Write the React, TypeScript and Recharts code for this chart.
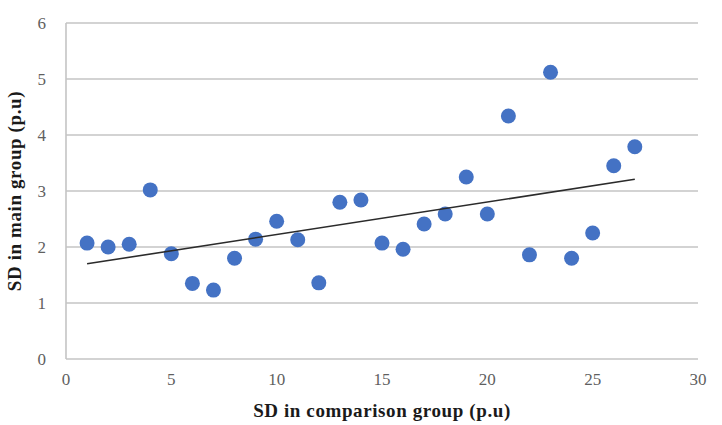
// Scatter of SD in main group vs SD in comparison group, with a linear trendline

import { ScatterChart, Scatter, XAxis, YAxis, CartesianGrid, Label } from 'recharts';

const xValues = [1, 2, 3, 4, 5, 6, 7, 8, 9, 10, 11, 12, 13, 14, 15, 16, 17, 18, 19, 20, 21, 22, 23, 24, 25, 26, 27];
const yValues = [2.07, 2.0, 2.05, 3.02, 1.88, 1.35, 1.23, 1.8, 2.14, 2.46, 2.13, 1.36, 2.8, 2.84, 2.07, 1.96, 2.41, 2.59, 3.25, 2.59, 4.34, 1.86, 5.12, 1.8, 2.25, 3.45, 3.79];
const trendX = [1, 27];
const trendY = [1.7, 3.21];
const xTicks = [0, 5, 10, 15, 20, 25, 30];
const yTicks = [0, 1, 2, 3, 4, 5, 6];

const points = xValues.map((x, i) => ({ x, y: yValues[i] }));
const trend = trendX.map((x, i) => ({ x, y: trendY[i] }));

const tickStyle = { fill: '#5f5f5f', fontSize: 17, fontFamily: '"Liberation Serif", "Times New Roman", serif' };
const labelStyle = { fill: '#1a1a1a', fontSize: 19, fontWeight: 'bold', fontFamily: '"Liberation Serif", "Times New Roman", serif', letterSpacing: 0.6, textAnchor: 'middle' as const };

export default function App() {
  return (
    <div style={{ position: 'absolute', left: 0, top: 0, background: '#fff' }}>
      <ScatterChart width={722} height={425} margin={{ top: 23, right: 24, left: 0, bottom: 0 }}>
        <CartesianGrid vertical={false} stroke="#c4c4c4" strokeWidth={1.6} />
        <XAxis
          type="number"
          dataKey="x"
          domain={[0, 30]}
          ticks={xTicks}
          height={66}
          tickLine={false}
          axisLine={false}
          tickSize={0}
          tickMargin={14}
          tick={tickStyle}
          interval={0}
        >
          <Label value="SD in comparison  group (p.u)" position="insideBottom" offset={8} style={labelStyle} />
        </XAxis>
        <YAxis
          type="number"
          dataKey="y"
          domain={[0, 6]}
          ticks={yTicks}
          width={66}
          tickLine={false}
          axisLine={{ stroke: '#c4c4c4', strokeWidth: 1.6 }}
          tickSize={0}
          tickMargin={20}
          tick={tickStyle}
          interval={0}
        >
          <Label value="SD in main group (p.u)" angle={-90} position="insideLeft" offset={14} style={labelStyle} />
        </YAxis>
        <Scatter
          data={points}
          isAnimationActive={false}
          shape={(p: any) => <circle cx={p.cx} cy={p.cy} r={7.5} fill="#4472c4" />}
        />
        <Scatter
          data={trend}
          isAnimationActive={false}
          line={{ stroke: '#2b2b2b', strokeWidth: 1.6 }}
          shape={() => <g />}
        />
      </ScatterChart>
    </div>
  );
}
